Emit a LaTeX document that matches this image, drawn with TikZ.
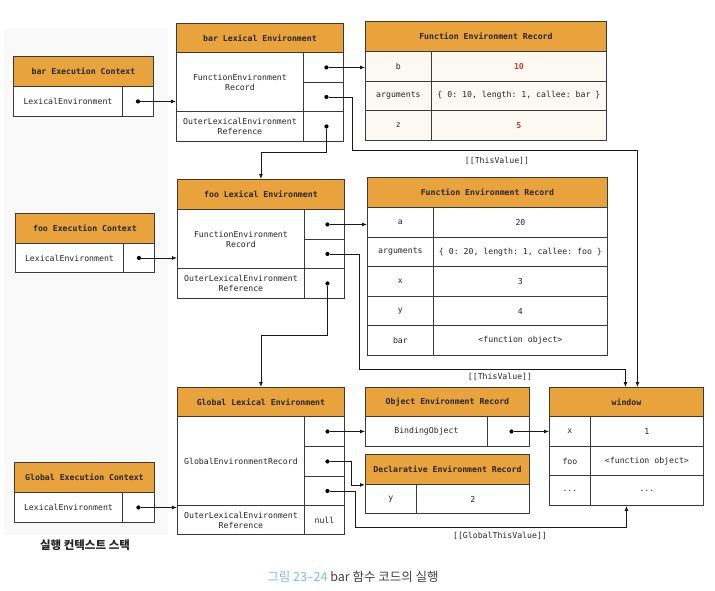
\documentclass[tikz,border=0pt]{standalone}
\usepackage{fontspec}
\setmonofont{DejaVu Sans Mono}
\newfontfamily\krfont{Noto Sans CJK KR}
\usetikzlibrary{arrows.meta}
\definecolor{hdrorange}{HTML}{E8A33C}
\definecolor{linegray}{HTML}{3A3A3A}
\definecolor{numred}{HTML}{C8372D}
\definecolor{cream}{HTML}{FCF8F2}
\definecolor{figblue}{HTML}{79BDE3}

\begin{document}
\begin{tikzpicture}[x=1pt,y=-1pt,
    font=\ttfamily\fontsize{8.2}{10}\selectfont, text=black!85,
    >={Latex[length=5pt,width=4pt]},
    tbl/.style 2 args={draw=linegray, line width=0.9pt, anchor=north west,
      inner sep=0pt, align=center, minimum width=#1pt, minimum height=#2pt},
    hdr/.style 2 args={tbl={#1}{#2}, fill=hdrorange,
      font=\ttfamily\bfseries\fontsize{8.2}{10}\selectfont},
    cell/.style 2 args={tbl={#1}{#2}, fill=white},
    dot/.style={circle, fill=black, inner sep=0pt, minimum size=4.2pt},
    link/.style={->, line width=0.8pt, draw=black!90}]
  \useasboundingbox (0,0) rectangle (715,590);
  \fill[black!2.5] (4,29) rectangle (168,535);

  \node[hdr={140}{30}]  (barEC)    at (13,56)   {bar Execution Context};
  \node[cell={109}{30}] (barECle)  at (13,86)   {LexicalEnvironment};
  \node[cell={31}{30}]  (barECp)   at (122,86)  {};

  \node[hdr={167}{29}]  (barLE)    at (176,23)  {bar Lexical Environment};
  \node[cell={127}{59}] (barLEfer) at (176,52)  {FunctionEnvironment\\Record};
  \node[cell={40}{30}]  (barLEp1)  at (303,52)  {};
  \node[cell={40}{29}]  (barLEp2)  at (303,82)  {};
  \node[cell={127}{30}] (barLEout) at (176,111) {OuterLexicalEnvironment\\Reference};
  \node[cell={40}{30}]  (barLEp3)  at (303,111) {};

  \node[hdr={241}{30}]                (barFER)  at (365,21)  {Function Environment Record};
  \node[cell={66}{29.5}, fill=cream]  (barb)    at (365,51)  {b};
  \node[cell={175}{29.5}, fill=cream] (barbv)   at (431,51)  {\textcolor{numred}{\bfseries 10}};
  \node[cell={66}{29.5}, fill=cream]  (bararg)  at (365,80.5) {arguments};
  \node[cell={175}{29.5}, fill=cream] (barargv) at (431,80.5) {\{ 0: 10, length: 1, callee: bar \}};
  \node[cell={66}{29.5}, fill=cream]  (barz)    at (365,110) {z};
  \node[cell={175}{29.5}, fill=cream] (barzv)   at (431,110) {\textcolor{numred}{\bfseries 5}};

  \node[hdr={139}{30}]  (fooEC)    at (15,213)  {foo Execution Context};
  \node[cell={108}{29}] (fooECle)  at (15,243)  {LexicalEnvironment};
  \node[cell={31}{29}]  (fooECp)   at (123,243) {};

  \node[hdr={167}{30}]  (fooLE)    at (177,179) {foo Lexical Environment};
  \node[cell={127}{59}] (fooLEfer) at (177,209) {FunctionEnvironment\\Record};
  \node[cell={40}{30}]  (fooLEp1)  at (304,209) {};
  \node[cell={40}{29}]  (fooLEp2)  at (304,239) {};
  \node[cell={127}{30}] (fooLEout) at (177,268) {OuterLexicalEnvironment\\Reference};
  \node[cell={40}{30}]  (fooLEp3)  at (304,268) {};

  \node[hdr={240}{30}]    (fooFER)  at (367,177)   {Function Environment Record};
  \node[cell={66}{29.6}]  (fooa)    at (367,207)   {a};
  \node[cell={174}{29.6}] (fooav)   at (433,207)   {20};
  \node[cell={66}{29.6}]  (fooarg)  at (367,236.6) {arguments};
  \node[cell={174}{29.6}] (fooargv) at (433,236.6) {\{ 0: 20, length: 1, callee: foo \}};
  \node[cell={66}{29.6}]  (foox)    at (367,266.2) {x};
  \node[cell={174}{29.6}] (fooxv)   at (433,266.2) {3};
  \node[cell={66}{29.6}]  (fooy)    at (367,295.8) {y};
  \node[cell={174}{29.6}] (fooyv)   at (433,295.8) {4};
  \node[cell={66}{29.6}]  (foobar)  at (367,325.4) {bar};
  \node[cell={174}{29.6}] (foobarv) at (433,325.4) {<function object>};

  \node[hdr={140}{30}]  (gEC)    at (14,462)  {Global Execution Context};
  \node[cell={108}{30}] (gECle)  at (14,492)  {LexicalEnvironment};
  \node[cell={32}{30}]  (gECp)   at (122,492) {};

  \node[hdr={167}{29}]  (gLE)    at (177,387) {Global Lexical Environment};
  \node[cell={127}{89}] (gLEger) at (177,416) {GlobalEnvironmentRecord};
  \node[cell={40}{30}]  (gLEp1)  at (304,416) {};
  \node[cell={40}{30}]  (gLEp2)  at (304,446) {};
  \node[cell={40}{29}]  (gLEp3)  at (304,476) {};
  \node[cell={127}{29}] (gLEout) at (177,505) {OuterLexicalEnvironment\\Reference};
  \node[cell={40}{29}]  (gLEnull) at (304,505) {null};

  \node[hdr={164}{29}]  (oer)  at (365,387) {Object Environment Record};
  \node[cell={122}{30}] (oerb) at (365,416) {BindingObject};
  \node[cell={42}{30}]  (oerp) at (487,416) {};

  \node[hdr={164}{30}]  (der)  at (365,454) {Declarative Environment Record};
  \node[cell={51}{29}]  (dery) at (365,484) {y};
  \node[cell={113}{29}] (deryv) at (416,484) {2};

  \node[hdr={154}{29}]  (win)   at (549,387) {window};
  \node[cell={41}{30}]  (winx)  at (549,416) {x};
  \node[cell={113}{30}] (winxv) at (590,416) {1};
  \node[cell={41}{29}]  (winf)  at (549,446) {foo};
  \node[cell={113}{29}] (winfv) at (590,446) {<function object>};
  \node[cell={41}{30}]  (wind)  at (549,475) {...};
  \node[cell={113}{30}] (windv) at (590,475) {...};

  \foreach \p in {barECp,fooECp,gECp}
    \node[dot] (\p d) at (\p) {};
  \foreach \p in {barLEp1,barLEp2,barLEp3,fooLEp1,fooLEp2,fooLEp3,gLEp1,gLEp2,gLEp3,oerp}
    \node[dot] (\p d) at ([xshift=3pt]\p.center) {};

  \draw[link] (barECpd) -- (barLEfer.west |- barECpd);
  \draw[link] (fooECpd) -- (fooLEfer.west |- fooECpd);
  \draw[link] (gECpd)   -- (gLEger.west |- gECpd);

  \draw[link] (barLEp1d) -- (barb.west |- barLEp1d);
  \draw[link] (barLEp2d) -- ++(26,0) -- ++(0,53) -| ([xshift=11pt]win.north);
  \draw[link] (barLEp3d) -- ++(0,26) -| (fooLE.north);

  \draw[link] (fooLEp1d) -- (fooa.west |- fooLEp1d);
  \draw[link] (fooLEp2d) -- ++(32,0) -- ++(0,115.5) -| ([xshift=-1pt]win.north);
  \draw[link] (fooLEp3d) -- ++(0,52) -| (gLE.north);

  \draw[link] (gLEp1d) -- (oerb.west |- gLEp1d);
  \draw[link] (gLEp2d) -- ++(24,0) |- (der.south west);
  \draw[link] (gLEp3d) -- ++(28,0) -- ++(0,36.5) -| (win.center |- windv.south);
  \draw[link] (oerpd)  -- (winx.west |- oerpd);

  \node (thisbar) at (497,161) {[[ThisValue]]};
  \node (thisfoo) at (500,377) {[[ThisValue]]};
  \node (gthis)   at (500,536) {[[GlobalThisValue]]};

  \node[font=\krfont\bfseries\fontsize{11.5}{13}\selectfont] (stack) at (85,545) {실행 컨텍스트 스택};
  \node[font=\krfont\fontsize{12.5}{14}\selectfont, text=black!75] (caption) at (353,577)
    {\textcolor{figblue}{그림 23–24} bar 함수 코드의 실행};
\end{tikzpicture}
\end{document}
